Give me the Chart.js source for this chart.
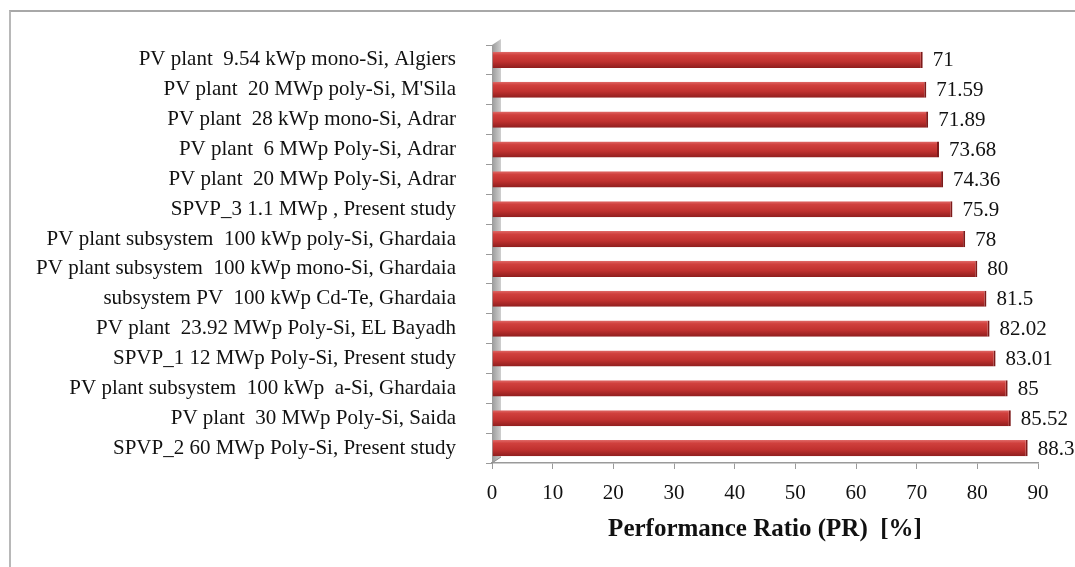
<!DOCTYPE html>
<html>
<head>
<meta charset="utf-8">
<script src="https://cdn.jsdelivr.net/npm/chart.js@4.4.1/dist/chart.umd.min.js"></script>
<style>
  html, body { margin: 0; padding: 0; background: #fff; }
  #frame {
    position: absolute; left: 9px; top: 10px; right: -4px; bottom: -4px;
    border-top: 2px solid #a8a8a8; border-left: 2px solid #b8b8b8;
  }
  #wrap { position: absolute; left: 0; top: 0; width: 1075px; height: 567px; }
</style>
</head>
<body>
<div id="frame"></div>
<div id="wrap"><canvas id="prChart" width="1075" height="567"></canvas></div>
<script>
// plants, top to bottom as in the figure
const plants = [
  "PV plant  9.54 kWp mono-Si, Algiers",
  "PV plant  20 MWp poly-Si, M'Sila",
  "PV plant  28 kWp mono-Si, Adrar",
  "PV plant  6 MWp Poly-Si, Adrar",
  "PV plant  20 MWp Poly-Si, Adrar",
  "SPVP_3 1.1 MWp , Present study",
  "PV plant subsystem  100 kWp poly-Si, Ghardaia",
  "PV plant subsystem  100 kWp mono-Si, Ghardaia",
  "subsystem PV  100 kWp Cd-Te, Ghardaia",
  "PV plant  23.92 MWp Poly-Si, EL Bayadh",
  "SPVP_1 12 MWp Poly-Si, Present study",
  "PV plant subsystem  100 kWp  a-Si, Ghardaia",
  "PV plant  30 MWp Poly-Si, Saida",
  "SPVP_2 60 MWp Poly-Si, Present study"
];
const prValues = [71, 71.59, 71.89, 73.68, 74.36, 75.9, 78, 80, 81.5, 82.02, 83.01, 85, 85.52, 88.3];
const xTicks = [0, 10, 20, 30, 40, 50, 60, 70, 80, 90];

const SERIF = "'Liberation Serif', 'DejaVu Serif', serif";
const BAR_RED = "#c0312f";

// grey side wall of the 3D plot + gradient on each bar
const wallAndShade = {
  id: "wallAndShade",
  beforeDatasetsDraw(chart) {
    const { ctx, chartArea } = chart;
    const x0 = chart.scales.x.getPixelForValue(0);
    ctx.save();
    const g = ctx.createLinearGradient(x0, 0, x0 + 9, 0);
    g.addColorStop(0, "#9a9a9a");
    g.addColorStop(1, "#cfcfcf");
    ctx.fillStyle = g;
    ctx.beginPath();
    ctx.moveTo(x0, chartArea.top);
    ctx.lineTo(x0 + 9, chartArea.top - 6);
    ctx.lineTo(x0 + 9, chartArea.bottom - 6);
    ctx.lineTo(x0, chartArea.bottom);
    ctx.closePath();
    ctx.fill();
    ctx.strokeStyle = "#8c8c8c";
    ctx.lineWidth = 1;
    ctx.beginPath();
    ctx.moveTo(x0 + 9, chartArea.bottom - 6);
    ctx.lineTo(x0, chartArea.bottom);
    ctx.stroke();
    ctx.restore();

    // options are per element here (scriptable colour), so each bar gets its own gradient
    chart.getDatasetMeta(0).data.forEach((bar) => {
      const h = bar.height;
      const grad = ctx.createLinearGradient(0, bar.y - h / 2, 0, bar.y + h / 2);
      grad.addColorStop(0, "#e06a68");
      grad.addColorStop(0.2, "#d0403d");
      grad.addColorStop(0.6, "#c0312f");
      grad.addColorStop(1, "#8f1e1e");
      bar.options = Object.assign({}, bar.options, { backgroundColor: grad });
    });
  },
  afterDatasetsDraw(chart) {
    const { ctx } = chart;
    ctx.save();
    ctx.font = "21px " + SERIF;
    ctx.fillStyle = "#111";
    ctx.textAlign = "left";
    ctx.textBaseline = "middle";
    chart.getDatasetMeta(0).data.forEach((bar, i) => {
      ctx.fillText(String(prValues[i]), bar.x + 10, bar.y + 1);
    });
    ctx.restore();
  }
};

new Chart(document.getElementById("prChart").getContext("2d"), {
  type: "bar",
  data: {
    labels: plants,
    datasets: [
      {
        data: prValues,
        backgroundColor: () => BAR_RED,
        borderColor: "#7e1a1a",
        borderWidth: { top: 0, right: 2, bottom: 0, left: 0 },
        borderSkipped: "left",
        categoryPercentage: 1,
        barPercentage: 0.54,
      },
    ],
  },
  options: {
    indexAxis: "y",
    responsive: false,
    animation: false,
    layout: { padding: { top: 45, right: 37, bottom: 0, left: 0 } },
    plugins: { legend: { display: false }, tooltip: { enabled: false } },
    scales: {
      x: {
        min: 0,
        max: 90,
        afterBuildTicks: (scale) => { scale.ticks = xTicks.map((v) => ({ value: v })); },
        afterFit: (scale) => { scale.height = 104; },
        ticks: { color: "#111", font: { family: SERIF, size: 21 }, padding: 12 },
        grid: { drawOnChartArea: false, drawTicks: true, tickLength: 6, color: "#9a9a9a" },
        border: { color: "#9a9a9a", width: 1.5 },
        title: {
          display: true,
          text: "Performance Ratio (PR)  [%]",
          color: "#111",
          font: { family: SERIF, size: 25, weight: "bold" },
          padding: { top: 8, bottom: 22 },
        },
      },
      y: {
        afterFit: (scale) => { scale.width = 492; },
        ticks: { color: "#111", font: { family: SERIF, size: 21 }, padding: 30, autoSkip: false },
        grid: { drawOnChartArea: false, drawTicks: true, tickLength: 6, color: "#9a9a9a", offset: true },
        border: { color: "#9a9a9a", width: 1 },
      },
    },
  },
  plugins: [wallAndShade],
});
</script>
</body>
</html>
